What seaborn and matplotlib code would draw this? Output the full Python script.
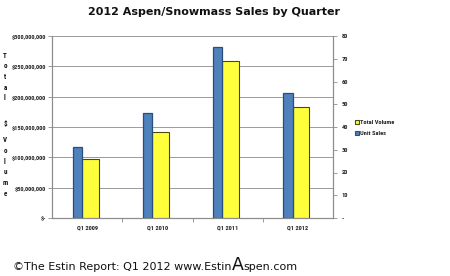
import matplotlib
matplotlib.use("Agg")
import matplotlib.pyplot as plt
import matplotlib.ticker as mticker
from matplotlib import font_manager
from matplotlib.patches import Patch
import seaborn as sns
import pandas as pd

quarters = ["Q1 2009", "Q1 2010", "Q1 2011", "Q1 2012"]
total_volume = [97_000_000, 142_000_000, 258_000_000, 183_000_000]
unit_sales = [31, 46, 75, 55]
legend_labels = ["Total Volume", "Unit Sales"]
title = "2012 Aspen/Snowmass Sales by Quarter"

sns.set_theme(style="white")
names = {f.name for f in font_manager.fontManager.ttflist}
narrow = "DejaVu Sans"
for cand in ["Liberation Sans Narrow", "Roboto Condensed", "IBM Plex Sans Condensed",
             "Open Sans Condensed", "Noto Sans Condensed", "Arial Narrow"]:
    if cand in names:
        narrow = cand
        break
plt.rcParams["font.family"] = ["DejaVu Sans"]

df = pd.DataFrame({"Quarter": quarters, "Volume": total_volume, "Units": unit_sales})

fig = plt.figure(figsize=(4.5, 2.76), dpi=100)
fig.patch.set_facecolor("white")
ax1 = fig.add_axes([52/450, 1-218/276, (333-52)/450, (218-36)/276])
ax2 = ax1.twinx()

yellow = "#FFFF3C"
yellow_edge = "#4A4A10"
blue = "#4F81BD"
blue_edge = "#2A4E7A"

sns.barplot(data=df, x="Quarter", y="Volume", ax=ax1, color=yellow, width=0.24,
            edgecolor=yellow_edge, linewidth=0.8, saturation=1, zorder=3)
for p in ax1.patches:
    p.set_x(p.get_x() + 0.045)
sns.barplot(data=df, x="Quarter", y="Units", ax=ax2, color=blue, width=0.13,
            edgecolor=blue_edge, linewidth=0.9, saturation=1, zorder=3)
for p in ax2.patches:
    p.set_x(p.get_x() - 0.14)

ax1.set_xlim(-0.5, 3.5)
ax1.set_ylim(0, 300_000_000)
ax2.set_ylim(0, 80)
ax1.set_yticks(range(0, 300_000_001, 50_000_000))
ax2.set_yticks(range(0, 81, 10))

def money(v, pos):
    return "$-" if v == 0 else "${:,.0f}".format(v)

def units(v, pos):
    return "-" if v == 0 else "{:.0f}".format(v)

ax1.yaxis.set_major_formatter(mticker.FuncFormatter(money))
ax2.yaxis.set_major_formatter(mticker.FuncFormatter(units))

ax1.grid(axis="y", color="#9A9A9A", linewidth=0.7, zorder=0)
ax1.set_axisbelow(True)
ax1.set_xlabel("")
ax1.set_ylabel("")
ax2.set_ylabel("")
ax2.set_xlabel("")

for ax in (ax1, ax2):
    for s in ax.spines.values():
        s.set_color("#8C8C8C")
        s.set_linewidth(0.8)
    ax.spines["top"].set_visible(False)

tick_font = dict(family=[narrow, "DejaVu Sans"], weight="bold", size=4.6)
ax1.tick_params(axis="y", which="major", length=3, width=0.6, color="#8C8C8C", pad=1, left=True)
ax2.tick_params(axis="y", which="major", length=3, width=0.6, color="#8C8C8C", pad=3, right=True)
ax1.tick_params(axis="x", length=0, pad=5)
for lbl in ax1.get_yticklabels() + ax2.get_yticklabels() + ax1.get_xticklabels():
    lbl.set_fontproperties(font_manager.FontProperties(**tick_font))
ax1.set_xticks([0.5, 1.5, 2.5], minor=True)
ax1.tick_params(axis="x", which="minor", length=3, width=0.6, color="#8C8C8C", bottom=True)

handles = [Patch(facecolor=yellow, edgecolor=yellow_edge, linewidth=0.8),
           Patch(facecolor=blue, edgecolor=blue_edge, linewidth=0.8)]
leg = fig.legend(handles, legend_labels, loc="center left",
                 bbox_to_anchor=(352/450, 1-128/276), frameon=False,
                 prop=font_manager.FontProperties(**tick_font),
                 handlelength=0.6, handleheight=0.6, handletextpad=0.2,
                 labelspacing=1.0, borderpad=0)

fig.text(214/450, 1-12/276, title, ha="center", va="center", fontsize=8,
         fontweight="bold", color="#111111")

lab_font = dict(family=[narrow, "DejaVu Sans"], weight="bold", size=5, ha="center",
                va="center", linespacing=1.45, color="#111111")
fig.text(5/450, 1-77/276, "T\no\nt\na\nl", **lab_font)
fig.text(5/450, 1-124/276, "$", **lab_font)
fig.text(5/450, 1-167/276, "V\no\nl\nu\nm\ne", **lab_font)

renderer = fig.canvas.get_renderer()
x0 = 13/450
y0 = 1-270/276
parts = [("\u00a9The Estin Report: Q1 2012 www.Estin", 8), ("A", 12.5), ("spen.com", 8)]
x = x0
for txt, fs in parts:
    t = fig.text(x, y0, txt, ha="left", va="baseline", fontsize=fs, color="#111111")
    bb = t.get_window_extent(renderer=renderer)
    x = x + bb.width / fig.bbox.width

fig.savefig("out.png", dpi=100, facecolor="white")
